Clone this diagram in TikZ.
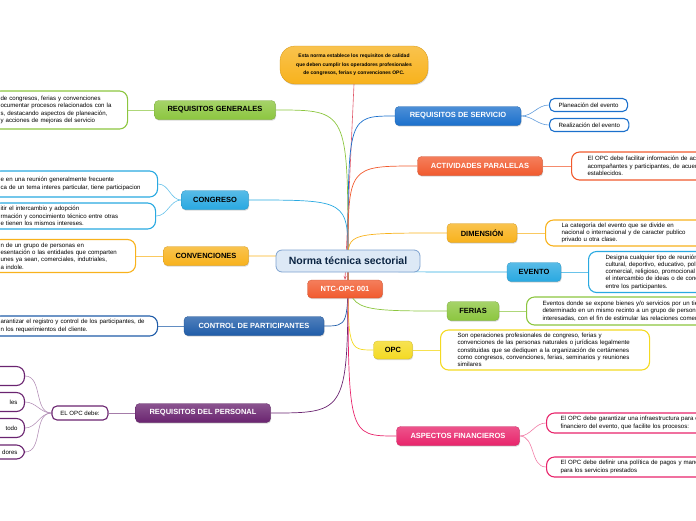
\documentclass[tikz,border=0pt]{standalone}
\usepackage{fontspec}
\setmainfont{Liberation Sans}
\usepackage{tikz}
\usetikzlibrary{shapes,shadows,arrows.meta,backgrounds}

\definecolor{cgreen}{HTML}{8CC63F}
\definecolor{cblue}{HTML}{29A9E1}
\definecolor{cgold}{HTML}{F8B21C}
\definecolor{cnavy}{HTML}{1F5CA8}
\definecolor{cpurple}{HTML}{6A2470}
\definecolor{croyal}{HTML}{1B70CC}
\definecolor{corange}{HTML}{F15A2E}
\definecolor{cyellow}{HTML}{F4DA22}
\definecolor{cpink}{HTML}{E8246B}
\definecolor{cmain}{HTML}{DDE9F6}
\definecolor{cred}{HTML}{E0596B}

\tikzstyle{line} = [draw, line width=0.7pt]
\tikzstyle{topic} = [rounded corners=4pt, font=\fontsize{7.5}{8.5}\selectfont\bfseries,
  minimum height=19pt, inner sep=2pt,
  drop shadow={opacity=0.3, shadow xshift=0.6pt, shadow yshift=-1.2pt}]
\tikzstyle{note} = [draw, line width=1.1pt, fill=white, rounded corners=8pt,
  font=\fontsize{6.1}{7.3}\selectfont, align=left, inner ysep=2pt]
\tikzset{paint/.style={top color=#1!78!white, bottom color=#1, draw=#1!85!black, line width=0.3pt}}

\begin{document}
\begin{tikzpicture}[x=1pt,y=-1pt]
\useasboundingbox (0,0) rectangle (696,520);
\clip (0,0) rectangle (696,520);

\node[draw=cmain!50!cnavy, line width=0.8pt, fill=cmain, rounded corners=6pt,
  minimum width=144pt, minimum height=22pt,
  font=\fontsize{10.5}{12}\selectfont\bfseries, text=cnavy!40!black] (norma) at (348,261)
  {Norma técnica sectorial};
\node[topic, paint=corange, text=white, minimum width=75pt, minimum height=18pt] (ntc) at (345,289)
  {NTC-OPC 001};
\node[topic, paint=cgold, rounded corners=15pt, minimum width=148pt, minimum height=38pt,
  align=center, font=\fontsize{5}{8.6}\selectfont\bfseries] (nota) at (354,65)
  {Esta norma establece los requisitos de calidad\\
   que deben cumplir los operadores profesionales\\
   de congresos, ferias y convenciones OPC.};

% left side
\node[topic, paint=cgreen, minimum width=121pt] (rgen) at (215,110) {REQUISITOS GENERALES};
\node[topic, paint=cblue, minimum width=67pt] (cong) at (215,200) {CONGRESO};
\node[topic, paint=cgold, minimum width=85pt] (conv) at (206,256) {CONVENCIONES};
\node[topic, paint=cnavy, text=white, minimum width=140pt] (ctrl) at (254,326) {CONTROL DE PARTICIPANTES};
\node[topic, paint=cpurple, text=white, minimum width=135pt] (rper) at (203,413) {REQUISITOS DEL PERSONAL};

\node[note, draw=cgreen, anchor=west, inner xsep=8pt, text width=119pt, minimum height=38pt] (rgen1) at (-8,110)
  {de congresos, ferias y convenciones\\ocumentar procesos relacionados con la\\
   s, destacando aspectos de planeación,\\y acciones de  mejoras del servicio};
\node[note, draw=cblue, anchor=west, inner xsep=8pt, text width=149pt, minimum height=26pt] (cong1) at (-8,184)
  {e en una reunión generalmente frecuente\\ca de un tema interes particular, tiene participacion};
\node[note, draw=cblue, anchor=west, inner xsep=8pt, text width=147pt, minimum height=26pt] (cong2) at (-8,216)
  {itir el intercambio y adopción\\rmación y conocimiento técnico entre otras\\e tienen los mismos intereses.};
\node[note, draw=cgold, anchor=west, inner xsep=8pt, text width=127pt, minimum height=33pt] (conv1) at (-8,256)
  {n de un grupo de personas en\\esentación o las entidades que comparten\\
   unes ya sean, comerciales, indutriales,\\a indole.};
\node[note, draw=cnavy, anchor=west, inner xsep=8pt, text width=149pt, minimum height=20pt] (ctrl1) at (-8,326)
  {arantizar el registro y control de los participantes, de\\n los requerimientos del cliente.};

\node[note, draw=cpurple, rounded corners=5pt, minimum width=56pt, minimum height=14pt, align=center] (rper0) at (80,413)
  {EL OPC debe:};
\node[note, draw=cpurple, anchor=east, text width=30pt, align=right, inner xsep=7pt, minimum height=19pt] (rper1) at (25,376) {};
\node[note, draw=cpurple, anchor=east, text width=30pt, align=right, inner xsep=7pt, minimum height=19pt] (rper2) at (25,402) {les};
\node[note, draw=cpurple, anchor=east, text width=30pt, align=right, inner xsep=7pt, minimum height=19pt] (rper3) at (25,428) {todo};
\node[note, draw=cpurple, anchor=east, text width=30pt, align=right, inner xsep=7pt, minimum height=14pt] (rper4) at (25,452) {dores};

% right side
\node[topic, paint=croyal, text=white, minimum width=126pt] (rser) at (458,116) {REQUISITOS DE SERVICIO};
\node[topic, paint=corange, text=white, minimum width=125pt] (acti) at (480,166) {ACTIVIDADES PARALELAS};
\node[topic, paint=cgold, minimum width=70pt] (dime) at (482,233) {DIMENSIÓN};
\node[topic, paint=cblue, minimum width=54pt] (even) at (534,272) {EVENTO};
\node[topic, paint=cgreen, minimum width=52pt] (feri) at (473,311) {FERIAS};
\node[topic, paint=cyellow, minimum width=39pt, minimum height=18pt] (opc) at (393,350) {OPC};
\node[topic, paint=cpink, text=white, minimum width=123pt] (asp) at (458,436) {ASPECTOS FINANCIEROS};

\node[note, draw=croyal, anchor=west, rounded corners=5pt, inner xsep=9pt, minimum height=13pt] (rser1) at (549,105)
  {Planeación del evento};
\node[note, draw=croyal, anchor=west, rounded corners=5pt, inner xsep=9pt, minimum height=13pt] (rser2) at (549,125)
  {Realización del evento};
\node[note, draw=corange, anchor=west, inner xsep=16pt, text width=190pt, minimum height=28pt] (acti1) at (571,166)
  {El OPC debe facilitar información de actividades\\acompañantes  y participantes, de acuerdo\\establecidos.};
\node[note, draw=cgold, anchor=west, inner xsep=16pt, text width=190pt, minimum height=26pt] (dime1) at (545,233)
  {La categoría del evento que se divide en\\nacional o internacional y de caracter publico\\privado u otra clase.};
\node[note, draw=cblue, anchor=west, inner xsep=17pt, text width=190pt, minimum height=41pt] (even1) at (588,272)
  {Designa cualquier tipo de reunión\\cultural, deportivo, educativo, político\\comercial, religioso, promocional\\
   el intercambio  de ideas o de conocimientos\\entre los participantes.};
\node[note, draw=cgreen, anchor=west, inner xsep=16pt, text width=190pt, minimum height=28pt] (feri1) at (526,311)
  {Eventos donde se expone bienes y/o servicios por un tiempo\\determinado en un mismo recinto a un grupo de personas\\
   interesadas, con el fin de estimular las relaciones comerciales};
\node[note, draw=cyellow, anchor=west, inner xsep=17pt, text width=175pt, minimum height=40pt] (opc1) at (440,350)
  {Son operaciones profesionales de congreso, ferias y\\convenciones de las personas naturales o jurídicas legalmente\\
   constituidas que se dediquen a la organización de certámenes\\como congresos, convenciones, ferias, seminarios y reuniones\\similares};
\node[note, draw=cpink, anchor=west, inner xsep=14pt, text width=190pt, minimum height=20pt] (asp1) at (546,423)
  {El OPC debe garantizar una infraestructura para el\\financiero del evento, que facilite los procesos:};
\node[note, draw=cpink, anchor=west, inner xsep=14pt, text width=190pt, minimum height=20pt] (asp2) at (546,467)
  {El OPC debe definir una política de pagos  y manejo\\para los servicios prestados};

\begin{scope}[on background layer]
\path[line, cred, line width=0.6pt, -{Stealth[length=4pt]}] (nota.south) -- (ntc.north);
\path[line, cgreen] (norma.center) .. controls (norma.center |- rgen.east) .. (rgen.east);
\path[line, cblue] (norma.center) .. controls (norma.center |- cong.east) .. (cong.east);
\path[line, cgold] (norma.center) .. controls (norma.center |- conv.east) .. (conv.east);
\path[line, cnavy] (norma.center) .. controls (norma.center |- ctrl.east) .. (ctrl.east);
\path[line, cpurple] (norma.center) .. controls (norma.center |- rper.east) .. (rper.east);
\path[line, croyal] (norma.center) .. controls (norma.center |- rser.west) .. (rser.west);
\path[line, corange] (norma.center) .. controls (norma.center |- acti.west) .. (acti.west);
\path[line, cgold] (norma.center) .. controls (norma.center |- dime.west) .. (dime.west);
\path[line, cblue] (norma.center) .. controls (norma.center |- even.west) .. (even.west);
\path[line, cgreen] (norma.center) .. controls (norma.center |- feri.west) .. (feri.west);
\path[line, cyellow] (norma.center) .. controls (norma.center |- opc.west) .. (opc.west);
\path[line, cpink] (norma.center) .. controls (norma.center |- asp.west) .. (asp.west);

\path[line, cgreen!70, line width=0.6pt] (rgen.west) -- (rgen1.east);
\path[line, cblue!70, line width=0.6pt] (cong.west) to[out=180,in=0] (cong1.east);
\path[line, cblue!70, line width=0.6pt] (cong.west) to[out=180,in=0] (cong2.east);
\path[line, cgold!70, line width=0.6pt] (conv.west) -- (conv1.east);
\path[line, cnavy!70, line width=0.6pt] (ctrl.west) -- (ctrl1.east);
\path[line, cpurple!60, line width=0.6pt] (rper.west) -- (rper0.east);
\path[line, cpurple!50, line width=0.6pt] (rper0.west) to[out=180,in=0] (rper1.east);
\path[line, cpurple!50, line width=0.6pt] (rper0.west) to[out=180,in=0] (rper2.east);
\path[line, cpurple!50, line width=0.6pt] (rper0.west) to[out=180,in=0] (rper3.east);
\path[line, cpurple!50, line width=0.6pt] (rper0.west) to[out=180,in=0] (rper4.east);
\path[line, croyal!70, line width=0.6pt] (rser.east) to[out=0,in=180] (rser1.west);
\path[line, croyal!70, line width=0.6pt] (rser.east) to[out=0,in=180] (rser2.west);
\path[line, corange!70, line width=0.6pt] (acti.east) -- (acti1.west);
\path[line, cgold!70, line width=0.6pt] (dime.east) -- (dime1.west);
\path[line, cblue!70, line width=0.6pt] (even.east) -- (even1.west);
\path[line, cgreen!70, line width=0.6pt] (feri.east) -- (feri1.west);
\path[line, cyellow!80, line width=0.6pt] (opc.east) -- (opc1.west);
\path[line, cpink!60, line width=0.6pt] (asp.east) to[out=0,in=180] (asp1.west);
\path[line, cpink!60, line width=0.6pt] (asp.east) to[out=0,in=180] (asp2.west);
\end{scope}
\end{tikzpicture}
\end{document}
